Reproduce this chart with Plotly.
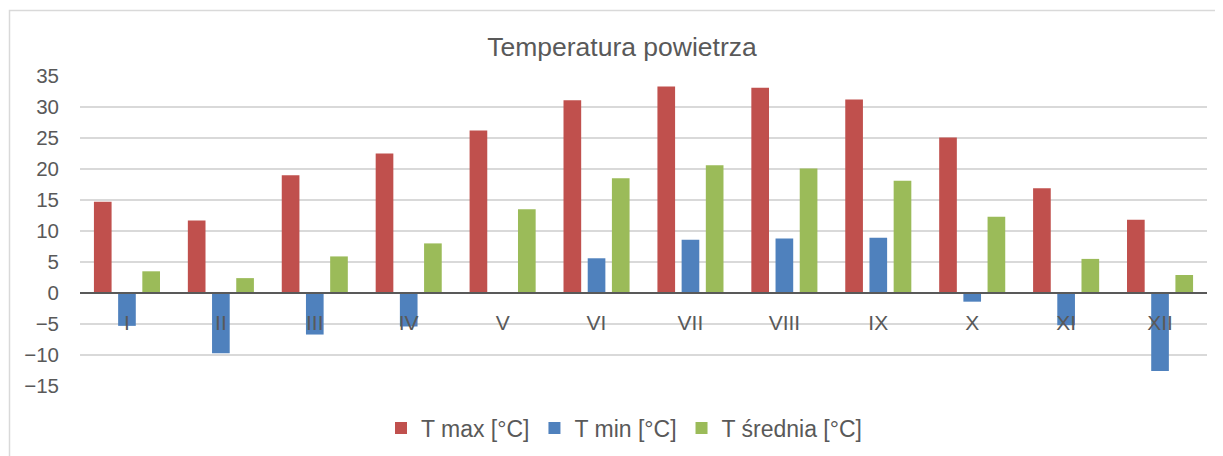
import plotly.graph_objects as go

months = ["I", "II", "III", "IV", "V", "VI", "VII", "VIII", "IX", "X", "XI", "XII"]
t_max = [14.7, 11.7, 19.0, 22.5, 26.2, 31.1, 33.3, 33.1, 31.2, 25.1, 16.9, 11.8]
t_min = [-5.3, -9.7, -6.7, -5.4, 0.0, 5.6, 8.6, 8.8, 8.9, -1.4, -5.2, -12.6]
t_avg = [3.5, 2.4, 5.9, 8.0, 13.5, 18.5, 20.6, 20.1, 18.1, 12.3, 5.5, 2.9]

names = ["T max [°C]", "T min [°C]", "T średnia [°C]"]
colors = ["#C0504D", "#4F81BD", "#9BBB59"]
series = [t_max, t_min, t_avg]

FONT = "Liberation Sans, Arial, sans-serif"
GREY = "#595959"

fig = go.Figure()
for n, c, v in zip(names, colors, series):
    fig.add_trace(go.Bar(x=months, y=v, name=n, marker=dict(color=c, line=dict(width=0))))

# page has an 8px body margin; lay out in page pixels minus 8
OFF = 8
W, H = 1223 - OFF, 456 - OFF
L, R, T, B = 80 - OFF, W - (1207 - OFF), 76 - OFF, H - (386 - OFF)
pw = W - L - R
ph = H - T - B

def px_x(x):
    return (x - OFF - L) / pw

def px_y(y):
    return (H - B - (y - OFF)) / ph

fig.update_layout(
    width=W, height=H,
    margin=dict(l=L, r=R, t=T, b=B, autoexpand=False),
    paper_bgcolor="white", plot_bgcolor="white",
    font=dict(family=FONT, color=GREY, size=20),
    barmode="group", bargap=0.227, bargroupgap=0.27,
    title=dict(text="Temperatura powietrza", x=(622 - OFF) / W, xref="container", xanchor="center",
               y=1 - (47 - OFF) / H, yref="container", yanchor="middle",
               font=dict(size=26.5, color=GREY, family=FONT)),
    legend=dict(orientation="h", xref="container", x=(624 - OFF) / W, xanchor="center",
                yref="container", y=1 - (428 - OFF) / H, yanchor="middle",
                font=dict(size=23, color=GREY, family=FONT), itemwidth=30,
                traceorder="normal", bgcolor="rgba(0,0,0,0)"),
    xaxis=dict(anchor="free", position=0.3, showline=True, linecolor=GREY, linewidth=2,
               ticks="", showgrid=False, tickfont=dict(size=21, color=GREY),
               ticklabelstandoff=11, zeroline=False),
    yaxis=dict(range=[-15, 35], dtick=5, tick0=0, showgrid=True, gridcolor="#D9D9D9",
               gridwidth=1.5, zeroline=False, showline=False, ticks="",
               tickfont=dict(size=20.5, color=GREY), ticklabelstandoff=20),
    showlegend=True,
)

fig.add_shape(type="rect", xref="paper", yref="paper",
              x0=px_x(9.5), x1=px_x(1240), y0=px_y(480), y1=px_y(10.5),
              line=dict(color="#D9D9D9", width=1.5), fillcolor="rgba(0,0,0,0)", layer="below")

fig.write_html("out.html")
